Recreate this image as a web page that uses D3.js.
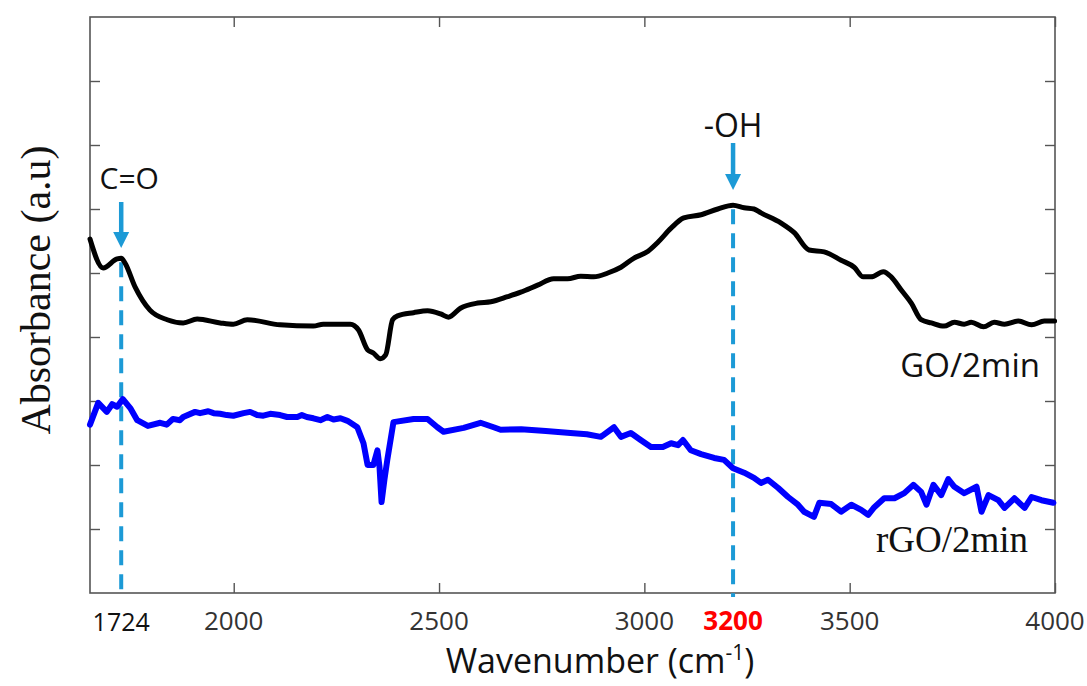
<!DOCTYPE html>
<html><head><meta charset="utf-8">
<script src="https://cdn.jsdelivr.net/npm/d3@7"></script>
<style>body{margin:0;background:#fff}svg{display:block}</style>
</head><body>
<svg id="c" width="1087" height="686"></svg>
<script>
// ---- data ----
const goWave = [1650,1682,1716,1726,1735,1760,1796,1838,1877,1911,1967,1999,2033,2113,2194,2218,2284,2304,2326,2340,2357,2370,2387,2399,2438,2472,2504,2523,2552,2594,2626,2667,2699,2740,2779,2813,2845,2877,2911,2943,2974,3009,3033,3065,3096,3138,3179,3216,3243,3267,3284,3333,3365,3401,3438,3479,3511,3533,3552,3582,3601,3626,3650,3674,3699,3730,3755,3779,3796,3826,3852,3877,3911,3943,3974,3999];
const goAbs  = [5.53,5.08,5.22,5.23,5.16,4.78,4.42,4.27,4.22,4.28,4.22,4.20,4.27,4.19,4.17,4.20,4.20,4.11,3.80,3.75,3.66,3.72,4.27,4.33,4.38,4.41,4.36,4.31,4.45,4.53,4.55,4.63,4.70,4.81,4.91,4.91,4.95,4.94,5.00,5.09,5.23,5.34,5.48,5.70,5.86,5.91,6.00,6.06,6.02,6.00,5.94,5.78,5.63,5.36,5.33,5.20,5.09,4.94,4.94,5.02,4.94,4.73,4.53,4.27,4.22,4.17,4.23,4.20,4.23,4.16,4.23,4.20,4.25,4.19,4.25,4.25];

const rgoWave = [1650,1670,1691,1704,1716,1730,1748,1765,1791,1821,1837,1852,1869,1877,1906,1918,1938,1951,1967,1983,1999,2024,2040,2057,2072,2089,2113,2130,2155,2166,2178,2194,2211,2228,2243,2260,2277,2301,2316,2326,2340,2350,2355,2360,2367,2374,2389,2438,2472,2496,2511,2560,2601,2633,2650,2700,2760,2820,2860,2894,2926,2943,2967,2991,3016,3045,3065,3082,3094,3113,3138,3170,3194,3216,3243,3267,3284,3301,3326,3350,3374,3389,3413,3426,3455,3479,3504,3528,3545,3560,3584,3609,3633,3655,3674,3687,3704,3723,3740,3755,3779,3809,3821,3838,3862,3877,3901,3926,3943,3967,3996];
const rgoAbs  = [2.63,2.97,2.83,2.95,2.91,3.03,2.89,2.70,2.61,2.66,2.63,2.72,2.70,2.75,2.83,2.81,2.84,2.81,2.80,2.78,2.77,2.81,2.83,2.78,2.77,2.80,2.78,2.75,2.75,2.78,2.75,2.73,2.70,2.75,2.71,2.73,2.69,2.59,2.34,2.00,2.00,2.23,1.97,1.42,1.77,2.08,2.67,2.72,2.72,2.59,2.52,2.58,2.66,2.59,2.55,2.56,2.53,2.50,2.48,2.44,2.59,2.44,2.50,2.39,2.28,2.28,2.34,2.31,2.39,2.23,2.17,2.11,2.08,1.95,1.88,1.80,1.72,1.77,1.64,1.50,1.38,1.27,1.19,1.41,1.39,1.27,1.38,1.30,1.22,1.34,1.48,1.48,1.56,1.69,1.58,1.38,1.69,1.53,1.78,1.66,1.56,1.66,1.27,1.53,1.45,1.33,1.48,1.33,1.50,1.45,1.41];

const xTicks = [2000, 2500, 3000, 3500, 4000];
const xTickLabels = ["2000", "2500", "3000", "3500", "4000"];
const yTicks = [1, 2, 3, 4, 5, 6, 7, 8];
const annotPos = [1726, 3216];
const annotText = ["C=O", "-OH"];
const annotTickLabels = ["1724", "3200"];
const annotTop = [5.23, 6.06];
const seriesLabels = ["GO/2min", "rGO/2min"];

// ---- chart ----
const svg = d3.select("#c");
const L = 90, R = 1055, T = 17, B = 593;
const x = d3.scaleLinear().domain([1650, 4000]).range([L, R]);
const y = d3.scaleLinear().domain([0, 9]).range([B, T]);
const axisColor = "#555";
const annColor = "#1c9ad6";

// frame
svg.append("rect").attr("x", L).attr("y", T).attr("width", R - L).attr("height", B - T)
  .attr("fill", "none").attr("stroke", axisColor).attr("stroke-width", 1.6);

function styleAxis(g) {
  g.select(".domain").remove();
  g.selectAll(".tick line").attr("stroke", axisColor).attr("stroke-width", 1.4);
  g.selectAll(".tick text").remove();
}
svg.append("g").attr("transform", `translate(0,${B})`)
  .call(d3.axisBottom(x).tickValues(xTicks).tickSize(-10)).call(styleAxis);
svg.append("g").attr("transform", `translate(0,${T})`)
  .call(d3.axisTop(x).tickValues(xTicks).tickSize(-10)).call(styleAxis);
svg.append("g").attr("transform", `translate(${L},0)`)
  .call(d3.axisLeft(y).tickValues(yTicks).tickSize(-10)).call(styleAxis);
svg.append("g").attr("transform", `translate(${R},0)`)
  .call(d3.axisRight(y).tickValues(yTicks).tickSize(-10)).call(styleAxis);

// tick labels
const tl = svg.append("g").attr("font-family", "'Open Sans', sans-serif").attr("font-size", 26)
  .attr("text-anchor", "middle");
xTicks.forEach((v, i) => {
  tl.append("text").attr("x", x(v)).attr("y", 630).attr("fill", "#333").text(xTickLabels[i]);
});
tl.append("text").attr("x", x(annotPos[0])).attr("y", 631).attr("fill", "#111")
  .attr("font-size", 25).text(annotTickLabels[0]);
tl.append("text").attr("x", x(annotPos[1])).attr("y", 630).attr("fill", "#ff0000")
  .attr("font-weight", "bold").text(annotTickLabels[1]);

// axis titles
const xt = svg.append("text").attr("x", 600).attr("y", 673).attr("text-anchor", "middle")
  .attr("font-family", "'Open Sans', sans-serif").attr("font-size", 34).attr("fill", "#111");
xt.append("tspan").text("Wavenumber (cm");
xt.append("tspan").attr("font-size", 21).attr("dy", -13).text("-1");
xt.append("tspan").attr("dy", 13).text(")");

svg.append("text").attr("transform", "translate(50,290) rotate(-90)").attr("text-anchor", "middle")
  .attr("font-family", "'Liberation Serif', serif").attr("font-size", 42).attr("fill", "#111")
  .text("Absorbance  (a.u)");

// annotation dashed lines
annotPos.forEach((v, i) => {
  svg.append("line").attr("x1", x(v)).attr("x2", x(v)).attr("y1", y(annotTop[i]) + 4).attr("y2", B + 4)
    .attr("stroke", annColor).attr("stroke-width", 4).attr("stroke-dasharray", "15,9");
});

// series
const lineSmooth = d3.line().x(d => x(d[0])).y(d => y(d[1])).curve(d3.curveMonotoneX);
const lineRaw = d3.line().x(d => x(d[0])).y(d => y(d[1]));
svg.append("path").datum(goWave.map((w, i) => [w, goAbs[i]])).attr("d", lineSmooth)
  .attr("fill", "none").attr("stroke", "#000").attr("stroke-width", 5)
  .attr("stroke-linejoin", "round").attr("stroke-linecap", "round");
svg.append("path").datum(rgoWave.map((w, i) => [w, rgoAbs[i]])).attr("d", lineRaw)
  .attr("fill", "none").attr("stroke", "#0000ff").attr("stroke-width", 6)
  .attr("stroke-linejoin", "round").attr("stroke-linecap", "round");

// arrows + labels
const arrowY = [[202, 248], [143, 190]];
const textY = [189, 137];
const textSize = [30, 32];
annotPos.forEach((v, i) => {
  const cx = x(v);
  const [a0, a1] = arrowY[i];
  svg.append("line").attr("x1", cx).attr("x2", cx).attr("y1", a0).attr("y2", a1 - 14)
    .attr("stroke", annColor).attr("stroke-width", 4.5);
  svg.append("path").attr("d", `M${cx - 8},${a1 - 16} L${cx + 8},${a1 - 16} L${cx},${a1} Z`).attr("fill", annColor);
  svg.append("text").attr("x", cx + (i === 0 ? 8 : 0)).attr("y", textY[i]).attr("text-anchor", "middle")
    .attr("font-family", "'Open Sans', sans-serif").attr("font-size", textSize[i]).attr("fill", "#111")
    .text(annotText[i]);
});

// series labels
svg.append("text").attr("x", 1040).attr("y", 377).attr("text-anchor", "end")
  .attr("font-family", "'Open Sans', sans-serif").attr("font-size", 33).attr("fill", "#111").text(seriesLabels[0]);
svg.append("text").attr("x", 1028).attr("y", 552).attr("text-anchor", "end")
  .attr("font-family", "'Liberation Serif', serif").attr("font-size", 37).attr("fill", "#111").text(seriesLabels[1]);
</script>
</body></html>
